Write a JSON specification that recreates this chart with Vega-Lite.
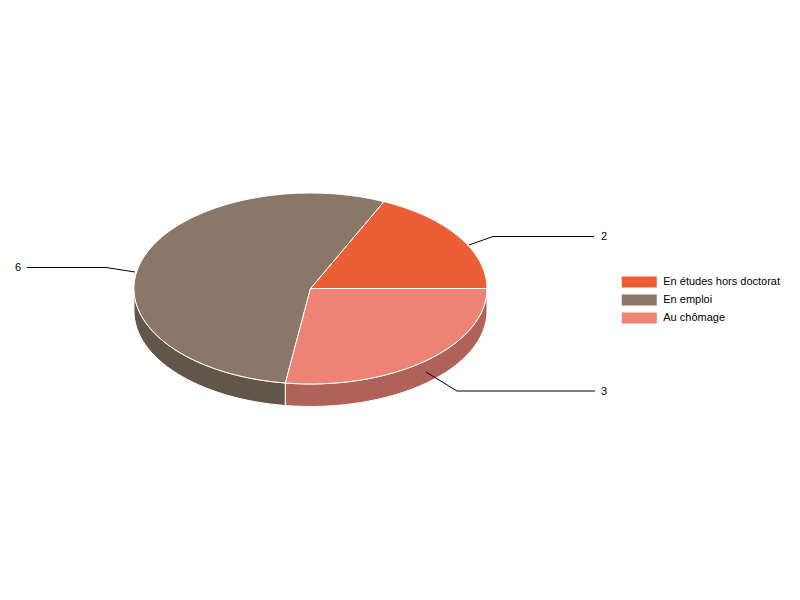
{
"$schema":"https://vega.github.io/schema/vega-lite/v6.json",
"width":800,"height":600,"padding":0,"autosize":{"type":"none"},
"background":"white",
"config":{"view":{"stroke":null},"font":"Liberation Sans"},
"datasets":{
"slices":[
{"categorie":"En études hors doctorat","part":"a","valeur":2},
{"categorie":"En emploi","part":"b","valeur":6},
{"categorie":"Au chômage","part":"c","valeur":3}
],
"leaders":[
{"categorie":"En études hors doctorat","valeur":2,"ordre":1,"px":469,"py":245},
{"categorie":"En études hors doctorat","valeur":2,"ordre":2,"px":493,"py":236.5},
{"categorie":"En études hors doctorat","valeur":2,"ordre":3,"px":594,"py":236.5},
{"categorie":"En emploi","valeur":6,"ordre":1,"px":135,"py":272},
{"categorie":"En emploi","valeur":6,"ordre":2,"px":106,"py":267.5},
{"categorie":"En emploi","valeur":6,"ordre":3,"px":27,"py":267.5},
{"categorie":"Au chômage","valeur":3,"ordre":1,"px":426,"py":372},
{"categorie":"Au chômage","valeur":3,"ordre":2,"px":457,"py":391},
{"categorie":"Au chômage","valeur":3,"ordre":3,"px":595,"py":391}
],
"labels":[
{"valeur":2,"px":601,"py":236.5},
{"valeur":6,"px":15,"py":267.5},
{"valeur":3,"px":601,"py":391.5}
]
},
"layer":[
{
"data":{"name":"slices"},
"transform":[{"filter":"datum.part !== 'a'"}],
"mark":{"type":"point","filled":true,"opacity":1,"stroke":"white","strokeWidth":1},
"encoding":{
"x":{"datum":310.5,"type":"quantitative","scale":{"domain":[0,800],"nice":false,"zero":false},"axis":null},
"y":{"datum":288.5,"type":"quantitative","scale":{"domain":[600,0],"nice":false,"zero":false},"axis":null},
"size":{"value":4},
"fill":{"field":"categorie","type":"nominal","legend":null,"scale":{"domain":["En emploi","Au chômage"],"range":["#62564B","#B06259"]}},
"shape":{"field":"part","type":"nominal","legend":null,"scale":{"domain":["b","c"],"range":[
"M-176.5,0A176.5,95.5 0 0 0 -25.1,94.5V117A176.5,95.5 0 0 1 -176.5,22.5Z",
"M-25.1,94.5A176.5,95.5 0 0 0 176.5,0V22.5A176.5,95.5 0 0 1 -25.1,117Z"]}}
}
},
{
"data":{"name":"slices"},
"mark":{"type":"point","filled":true,"opacity":1,"stroke":"white","strokeWidth":1},
"encoding":{
"x":{"datum":310.5,"type":"quantitative"},
"y":{"datum":288.5,"type":"quantitative"},
"size":{"value":4},
"color":{"field":"categorie","type":"nominal","sort":null,
"scale":{"domain":["En études hors doctorat","En emploi","Au chômage"],"range":["#EB5E36","#8A7768","#EE8275"]},
"legend":{"title":null,"orient":"none","legendX":633.75,"legendY":276.5,"padding":0,"symbolType":"M-10,-3.14H10V3.14H-10Z","symbolSize":12.25,"symbolStrokeWidth":0,"labelOffset":18.5,"labelFont":"Liberation Sans","labelFontSize":11,"labelColor":"#000000","rowPadding":6}},
"shape":{"field":"part","type":"nominal","legend":null,"scale":{"domain":["a","b","c"],"range":[
"M0,0L176.5,0A176.5,95.5 0 0 0 73.3,-86.9Z",
"M0,0L73.3,-86.9A176.5,95.5 0 1 0 -25.1,94.5Z",
"M0,0L-25.1,94.5A176.5,95.5 0 0 0 176.5,0Z"]}}
}
},
{
"data":{"name":"leaders"},
"mark":{"type":"line","color":"#000000","strokeWidth":1,"interpolate":"linear"},
"encoding":{
"x":{"field":"px","type":"quantitative"},
"y":{"field":"py","type":"quantitative"},
"detail":{"field":"categorie"},
"order":{"field":"ordre"}
}
},
{
"data":{"name":"labels"},
"mark":{"type":"text","font":"Liberation Sans","fontSize":11,"color":"#000000","align":"left","baseline":"middle"},
"encoding":{
"x":{"field":"px","type":"quantitative"},
"y":{"field":"py","type":"quantitative"},
"text":{"field":"valeur","type":"quantitative"}
}
}
],
"resolve":{"scale":{"shape":"independent","color":"independent","fill":"independent"}}
}
